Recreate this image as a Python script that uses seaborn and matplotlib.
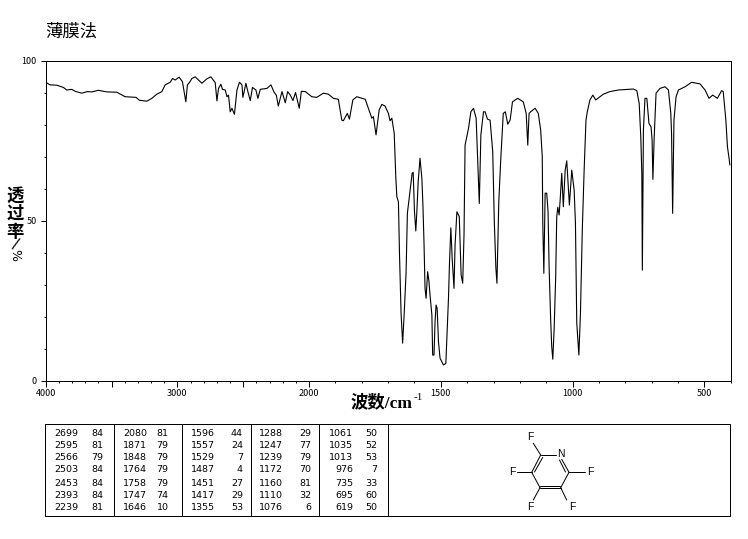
import matplotlib
matplotlib.use("Agg")
import matplotlib.pyplot as plt
import seaborn as sns
import pandas as pd
import numpy as np
from matplotlib.ticker import FixedLocator, FixedFormatter, NullFormatter

# spectrum
wavenumber = [4000, 3967, 3916, 3866, 3840, 3802, 3777, 3726, 3684, 3650, 3600, 3536, 3460, 3397, 3314, 3289,
              3232, 3194, 3156, 3118, 3093, 3055, 3037, 3017, 2987, 2962, 2947, 2936, 2924, 2909, 2890, 2865,
              2814, 2776, 2746, 2713, 2700, 2688, 2670, 2658, 2637, 2624, 2612, 2599, 2586, 2567, 2548, 2529,
              2510, 2503, 2480, 2468, 2447, 2430, 2404, 2389, 2371, 2320, 2290, 2265, 2249, 2234, 2206, 2181,
              2163, 2143, 2123, 2103, 2075, 2059, 2029, 1990, 1971, 1946, 1927, 1908, 1889, 1876, 1870, 1855,
              1847, 1834, 1819, 1787, 1762, 1756, 1746, 1734, 1724, 1712, 1699, 1693, 1686, 1677, 1671, 1667,
              1661, 1657, 1651, 1645, 1639, 1632, 1627, 1618, 1609, 1605, 1600, 1595, 1591, 1586, 1579, 1572,
              1568, 1564, 1560, 1556, 1550, 1545, 1541, 1534, 1531, 1526, 1522, 1518, 1514, 1509, 1503, 1490,
              1481, 1477, 1471, 1467, 1462, 1457, 1450, 1446, 1439, 1430, 1423, 1417, 1412, 1408, 1395, 1386,
              1376, 1366, 1360, 1354, 1348, 1338, 1332, 1323, 1313, 1303, 1297, 1291, 1287, 1280, 1273, 1263,
              1255, 1246, 1237, 1228, 1208, 1187, 1176, 1170, 1165, 1159, 1142, 1130, 1121, 1115, 1113, 1109,
              1104, 1098, 1093, 1089, 1083, 1079, 1075, 1070, 1064, 1060, 1056, 1051, 1047, 1041, 1035, 1028,
              1022, 1012, 1003, 994, 989, 984, 976, 970, 963, 956, 949, 944, 934, 923, 912, 883,
              858, 826, 769, 756, 747, 741, 737, 735, 731, 725, 718, 710, 702, 698, 695, 690,
              683, 668, 649, 636, 627, 624, 620, 615, 607, 598, 573, 548, 516, 497, 482, 468,
              450, 434, 428, 418, 412, 405, 403]
transmittance = [93.2, 92.4, 92.3, 91.6, 90.8, 91.0, 90.4, 89.8, 90.3, 90.2, 90.7, 90.2, 90.1, 88.7, 88.5, 87.6,
                 87.3, 88.2, 89.5, 90.3, 92.4, 93.2, 94.4, 93.9, 94.8, 93.4, 89.8, 87.1, 92.4, 93.1, 94.4, 94.9,
                 92.9, 94.3, 94.9, 93.1, 87.4, 91.3, 92.6, 91.0, 90.8, 88.7, 89.2, 84.0, 85.1, 83.2, 90.8, 93.2,
                 92.4, 88.5, 92.9, 90.8, 87.5, 91.6, 90.8, 88.2, 91.0, 91.3, 92.4, 90.0, 89.2, 85.8, 90.3, 86.8,
                 90.3, 89.2, 87.5, 90.0, 85.1, 90.4, 90.3, 88.7, 88.5, 89.8, 89.5, 88.2, 87.9, 81.4, 81.2, 83.5,
                 81.7, 87.7, 88.7, 87.9, 82.0, 82.5, 76.8, 84.6, 86.3, 85.8, 83.5, 81.2, 82.0, 77.3, 63.7, 57.5,
                 55.9, 39.9, 21.2, 11.8, 21.2, 33.7, 52.3, 58.6, 64.8, 65.1, 52.8, 46.8, 52.8, 62.2, 69.5, 63.2,
                 54.9, 43.5, 28.9, 25.8, 34.1, 31.0, 26.8, 20.6, 8.1, 8.1, 18.5, 23.7, 22.7, 12.3, 7.1, 5.0,
                 5.5, 13.3, 25.8, 37.2, 47.8, 38.3, 28.9, 42.4, 52.8, 51.3, 33.1, 30.5, 45.6, 73.6, 78.8, 84.0,
                 85.1, 82.0, 68.4, 55.4, 76.8, 84.0, 84.0, 81.7, 81.4, 71.5, 49.7, 35.2, 30.5, 55.9, 68.4, 83.5,
                 84.0, 80.1, 81.4, 87.1, 88.2, 87.1, 83.5, 73.6, 83.5, 84.0, 85.1, 83.5, 78.3, 70.0, 49.3, 33.6,
                 58.6, 58.6, 52.8, 35.7, 19.0, 10.7, 6.8, 15.9, 32.5, 51.3, 54.2, 51.8, 56.5, 64.8, 54.4, 65.8,
                 68.7, 54.9, 65.8, 59.6, 49.3, 18.1, 8.1, 21.2, 47.1, 65.8, 81.4, 84.0, 87.7, 89.2, 87.7, 89.5,
                 90.3, 90.8, 91.1, 90.6, 86.6, 76.2, 64.8, 34.6, 78.3, 88.2, 88.2, 80.4, 79.3, 75.2, 62.9, 76.2,
                 89.8, 91.3, 91.8, 90.8, 83.5, 76.8, 52.3, 81.4, 88.7, 90.8, 91.8, 93.2, 92.7, 90.8, 88.2, 89.2,
                 88.2, 90.6, 90.3, 81.4, 73.1, 69.0, 67.4]

# peak table, one list per column block
peak_wn_1 = ["2699", "2595", "2566", "2503", "2453", "2393", "2239"]
peak_t_1 = ["84", "81", "79", "84", "84", "84", "81"]
peak_wn_2 = ["2080", "1871", "1848", "1764", "1758", "1747", "1646"]
peak_t_2 = ["81", "79", "79", "79", "79", "74", "10"]
peak_wn_3 = ["1596", "1557", "1529", "1487", "1451", "1417", "1355"]
peak_t_3 = ["44", "24", "7", "4", "27", "29", "53"]
peak_wn_4 = ["1288", "1247", "1239", "1172", "1160", "1110", "1076"]
peak_t_4 = ["29", "77", "79", "70", "81", "32", "6"]
peak_wn_5 = ["1061", "1035", "1013", "976", "735", "695", "619"]
peak_t_5 = ["50", "52", "53", "7", "33", "60", "50"]

x_major = [4000, 3500, 3000, 2500, 2000, 1500, 1000, 500]
x_labels = ["4000", "", "3000", "", "2000", "1500", "1000", "500"]
x_minor = [3900, 3800, 3700, 3600, 3400, 3300, 3200, 3100, 2900, 2800, 2700, 2600, 2400, 2300, 2200, 2100,
           1900, 1800, 1700, 1600, 1400, 1300, 1200, 1100, 900, 800, 700, 600, 400]
y_major = [0, 50, 100]
y_minor = [10, 20, 30, 40, 60, 70, 80, 90]

sns.set_style("ticks", rc={"axes.edgecolor": "black", "xtick.color": "black", "ytick.color": "black",
                           "text.color": "black", "axes.labelcolor": "black"})
plt.rcParams["font.family"] = ["Noto Sans CJK SC", "DejaVu Sans"]

W, H = 748, 539
LW = 0.72
fig = plt.figure(figsize=(W / 100, H / 100), dpi=100)
ax = fig.add_axes([45.7 / W, 1 - 381 / H, (730.6 - 45.7) / W, (381 - 60.5) / H])

df = pd.DataFrame({"wn": wavenumber, "t": transmittance})
sns.lineplot(data=df, x="wn", y="t", sort=False, estimator=None, color="black",
             linewidth=0.8, ax=ax)


# above 2000 the axis is compressed by half
def forward(v):
    v = np.asarray(v, dtype=float)
    return np.where(v > 2000, 2000 + (v - 2000) / 2, v)


def inverse(v):
    v = np.asarray(v, dtype=float)
    return np.where(v > 2000, 2000 + (v - 2000) * 2, v)


ax.set_xscale("function", functions=(forward, inverse))
ax.set_xlim(4000, 400)
ax.set_ylim(0, 100)
ax.set_xlabel("")
ax.set_ylabel("")
ax.xaxis.set_major_locator(FixedLocator(x_major))
ax.xaxis.set_major_formatter(FixedFormatter(x_labels))
ax.xaxis.set_minor_locator(FixedLocator(x_minor))
ax.xaxis.set_minor_formatter(NullFormatter())
ax.yaxis.set_major_locator(FixedLocator(y_major))
ax.yaxis.set_minor_locator(FixedLocator(y_minor))
ax.yaxis.set_minor_formatter(NullFormatter())
ax.tick_params(axis="x", which="major", length=4, width=LW, labelsize=6.5, pad=2)
ax.tick_params(axis="x", which="minor", length=1.5, width=LW)
ax.tick_params(axis="y", which="major", length=3.5, width=LW, labelsize=6.5, pad=3)
ax.tick_params(axis="y", which="minor", length=1.5, width=LW)
for s in ax.spines.values():
    s.set_linewidth(LW)
    s.set_visible(True)

# overlay in picture pixels for texts, peak table and the structure
ov = fig.add_axes([0, 0, 1, 1], facecolor="none")
ov.set_xlim(0, W)
ov.set_ylim(H, 0)
ov.axis("off")

ov.text(45, 32, "薄膜法", fontsize=12.5, ha="left", va="center")
ov.text(351, 403, "波数/cm", fontsize=12.5, ha="left", va="center", weight="bold",
        family=["Liberation Serif", "Noto Sans CJK SC"])
ov.text(414, 397, "-1", fontsize=8, ha="left", va="center", family="Liberation Serif")
ov.text(15, 214, "透\n过\n率", fontsize=12.5, ha="center", va="center", linespacing=1.0, weight="bold")
ov.text(15, 245, "/", fontsize=11, ha="center", va="center", rotation=-20, family="DejaVu Sans")
ov.text(15, 255, "%", fontsize=9, ha="center", va="center", rotation=270, family="DejaVu Sans")

# table box
ov.plot([45.3, 730.5, 730.5, 45.3, 45.3], [424.3, 424.3, 516.3, 516.3, 424.3], color="black", lw=LW)
for xd in [114.3, 182.3, 251, 319, 388.3]:
    ov.plot([xd, xd], [424.3, 516.3], color="black", lw=LW)

row_y = [433.3, 445, 458, 470, 483, 495.5, 507.5]
blocks = [(peak_wn_1, peak_t_1, 78.5, 103), (peak_wn_2, peak_t_2, 147, 168.5), (peak_wn_3, peak_t_3, 215, 243),
          (peak_wn_4, peak_t_4, 283, 311), (peak_wn_5, peak_t_5, 353, 377)]
for wn_col, t_col, x1, x2 in blocks:
    for i in range(len(row_y)):
        ov.text(x1, row_y[i], wn_col[i], fontsize=6.8, ha="right", va="center", family="DejaVu Sans")
        ov.text(x2, row_y[i], t_col[i], fontsize=6.8, ha="right", va="center", family="DejaVu Sans")

# pentafluoropyridine
bonds = [((540.7, 455), (556, 455)), ((540.7, 455), (533.3, 443.3)), ((540.7, 455), (531.7, 472.3)),
         ((542.7, 457.5), (534.5, 472)), ((531.7, 472.3), (516.7, 472.3)), ((531.7, 472.3), (540, 487.7)),
         ((540, 487.7), (560.7, 487.7)), ((540.5, 486), (560, 486)), ((560.7, 487.7), (569, 472.3)),
         ((569, 472.3), (561.7, 459.3)), ((565.5, 472), (559.5, 460)), ((569, 472.3), (585, 472.3)),
         ((540, 487.7), (533.3, 500)), ((560.7, 487.7), (566.7, 500))]
for a, b in bonds:
    ov.plot([a[0], b[0]], [a[1], b[1]], color="black", lw=LW)
atoms = [("N", 561, 454.3), ("F", 530, 436.7), ("F", 590, 471.7), ("F", 512.7, 471.7), ("F", 530, 506.7),
         ("F", 572.7, 506.7)]
for name, xa, ya in atoms:
    ov.text(xa, ya, name, fontsize=7.5, ha="center", va="center", family="Liberation Sans")

fig.savefig("out.png", dpi=100)
